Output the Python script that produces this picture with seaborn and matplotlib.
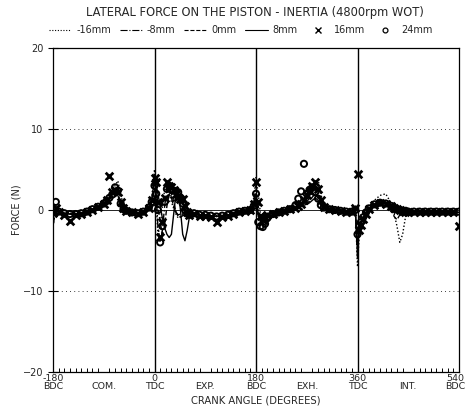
import matplotlib
matplotlib.use("Agg")
import matplotlib.pyplot as plt
import matplotlib.transforms as mtransforms
from matplotlib.lines import Line2D
from matplotlib.ticker import MultipleLocator
import pandas as pd
import seaborn as sns

# ---------------- data (crank angle in degrees, force in N) ----------------
ANGLE = [
    -180, -175, -170, -160, -150, -140, -130, -120, -110, -100,
    -90, -85, -80, -75, -70, -65, -60, -55, -50,
    -40, -30, -20, -10, -5,
    0, 3, 6, 10, 14, 18, 22, 26, 30,
    34, 38, 42, 46, 50, 54, 58, 62,
    70, 80, 90, 100, 110, 120, 130, 140, 150, 160, 170, 176,
    180, 184, 188, 192, 196, 200, 210, 220, 230, 240,
    250, 255, 260, 265, 270, 275, 280, 285, 290, 295, 300,
    310, 320, 330, 340, 350, 356,
    360, 363, 366, 370, 375, 380, 390, 400,
    410, 420, 425, 430, 435, 440, 445, 450,
    460, 470, 480, 490, 500, 510, 520, 530, 540,
]

F_M16 = [
    -2.0, 0.3, -0.1, -0.3, -0.4, -0.4, -0.3, -0.1, 0.2, 0.5,
    0.9, 1.3, 1.8, 2.4, 3.0, 3.6, 2.0, 0.4, 0.0,
    -0.2, -0.3, -0.1, 0.5, 1.5,
    5.0, 1.0, -3.0, -2.0, 0.5, 2.5, 3.0, 2.0, 1.0,
    0.2, -0.5, -1.0, -0.8, -0.5, -0.4, -0.4, -0.4,
    -0.3, -0.5, -0.6, -0.6, -0.7, -0.6, -0.5, -0.3, -0.1, 0.0, 0.2, 1.5,
    4.0, 2.0, -0.5, -1.0, -0.6, -0.4, -0.3, -0.2, 0.0, 0.2,
    0.4, 0.5, 0.6, 0.8, 1.2, 1.8, 2.5, 3.2, 3.8, 2.0, 0.5,
    0.2, 0.1, 0.0, -0.1, -0.1, 0.5,
    -7.0, -3.0, -1.8, -1.0, -0.3, 0.4, 1.2, 1.8,
    2.0, 0.8, -0.5, -2.0, -4.0, -3.0, -0.9, -0.4,
    -0.3, -0.2, -0.2, -0.2, -0.2, -0.2, -0.2, -0.2, -0.3,
]

F_M8 = [
    -2.0, 0.2, -0.2, -0.4, -0.5, -0.5, -0.4, -0.2, 0.1, 0.4,
    0.8, 1.1, 1.5, 2.0, 2.4, 2.8, 1.2, 0.2, -0.1,
    -0.3, -0.4, -0.2, 0.4, 1.2,
    4.5, 2.0, -2.0, -4.0, -2.5, 0.5, 2.5, 2.8, 1.5,
    0.5, -0.3, -0.6, -0.5, -0.4, -0.4, -0.4, -0.4,
    -0.4, -0.6, -0.6, -0.7, -0.8, -0.7, -0.6, -0.4, -0.2, -0.1, 0.1, 1.0,
    3.0, 0.5, -1.5, -1.3, -0.8, -0.5, -0.4, -0.3, -0.1, 0.1,
    0.3, 0.4, 0.5, 0.7, 1.0, 1.5, 2.2, 2.8, 2.5, 1.2, 0.4,
    0.1, 0.0, -0.1, -0.2, -0.2, 0.3,
    -6.0, -2.5, -1.7, -1.0, -0.4, 0.2, 0.8, 1.2,
    1.0, 0.5, 0.2, 0.0, -0.1, -0.2, -0.2, -0.2,
    -0.2, -0.2, -0.2, -0.2, -0.2, -0.2, -0.2, -0.2, -0.3,
]

F_0 = [
    -0.5, 0.2, -0.2, -0.4, -0.5, -0.5, -0.4, -0.2, 0.1, 0.4,
    0.8, 1.1, 1.6, 2.0, 2.2, 2.0, 1.0, 0.2, -0.1,
    -0.3, -0.4, -0.2, 0.3, 1.0,
    3.5, 3.0, 0.5, -1.5, -3.0, -2.0, 0.5, 2.0, 2.2,
    1.0, -0.2, -0.8, -0.9, -0.7, -0.6, -0.5, -0.5,
    -0.4, -0.6, -0.6, -0.7, -0.8, -0.7, -0.6, -0.4, -0.2, -0.1, 0.0, 0.6,
    2.0, -0.5, -1.5, -1.2, -0.8, -0.5, -0.4, -0.3, -0.1, 0.1,
    0.3, 0.4, 0.5, 0.6, 0.8, 1.1, 1.6, 2.0, 1.5, 0.7, 0.3,
    0.1, 0.0, -0.1, -0.2, -0.2, 0.2,
    -5.0, -2.3, -1.7, -1.0, -0.4, 0.2, 0.7, 1.0,
    0.9, 0.0, -0.8, -1.2, -0.6, -0.3, -0.2, -0.2,
    -0.2, -0.2, -0.2, -0.2, -0.2, -0.2, -0.2, -0.2, -0.3,
]

F_8 = [
    -0.4, 0.2, -0.2, -0.4, -0.5, -0.5, -0.4, -0.2, 0.1, 0.4,
    0.8, 1.1, 1.5, 1.9, 2.1, 1.8, 0.8, 0.1, -0.1,
    -0.3, -0.4, -0.2, 0.3, 0.9,
    2.5, 3.0, 2.0, 0.5, -1.0, -2.2, -3.0, -3.4, -3.0,
    -0.5, 2.0, 2.6, 0.0, -3.0, -3.8, -2.5, -0.8,
    -0.4, -0.6, -0.6, -0.7, -0.8, -0.7, -0.6, -0.4, -0.2, -0.1, 0.0, 0.5,
    1.5, -0.8, -1.3, -1.1, -0.8, -0.5, -0.4, -0.3, -0.1, 0.1,
    0.3, 0.4, 0.5, 0.6, 0.7, 0.9, 1.2, 1.5, 1.2, 0.6, 0.3,
    0.1, 0.0, -0.1, -0.2, -0.2, 0.1,
    -4.5, -2.3, -1.6, -1.0, -0.4, 0.1, 0.6, 0.9,
    0.8, 0.4, 0.2, 0.0, -0.1, -0.1, -0.2, -0.2,
    -0.2, -0.2, -0.2, -0.2, -0.2, -0.2, -0.2, -0.2, -0.3,
]

F_16 = [
    -0.4, 0.3, -0.3, -0.6, -1.4, -0.6, -0.5, -0.3, 0.0, 0.4,
    0.8, 1.2, 4.2, 2.2, 2.5, 2.2, 1.0, 0.2, -0.1,
    -0.3, -0.5, -0.3, 0.3, 1.2,
    4.0, 3.5, 1.0, -3.3, -1.5, 1.5, 3.4, 3.0, 2.8,
    2.5, 2.0, 1.6, 1.4, 1.4, 0.5, -0.3, -0.6,
    -0.5, -0.7, -0.8, -0.9, -1.5, -0.9, -0.7, -0.5, -0.3, -0.1, 0.0, 0.8,
    3.5, 1.0, -0.8, -1.2, -0.9, -0.6, -0.5, -0.3, -0.1, 0.1,
    0.3, 0.5, 0.7, 1.2, 1.8, 2.4, 3.0, 3.4, 2.6, 1.2, 0.4,
    0.1, 0.0, -0.1, -0.2, -0.2, 0.3,
    4.5, -2.5, -1.8, -1.1, -0.5, 0.1, 0.6, 0.9,
    0.8, 0.5, 0.3, 0.1, 0.0, -0.1, -0.2, -0.2,
    -0.2, -0.3, -0.2, -0.3, -0.2, -0.3, -0.2, -0.3, -2.0,
]

F_24 = [
    -0.3, 1.0, -0.2, -0.4, -0.5, -0.5, -0.4, -0.2, 0.1, 0.4,
    0.8, 1.1, 1.5, 1.9, 2.8, 2.4, 0.8, 0.1, -0.1,
    -0.3, -0.4, -0.2, 0.3, 1.0,
    3.0, 2.0, 0.0, -4.0, -2.0, 1.0, 2.6, 3.0, 2.5,
    2.4, 2.3, 2.2, 1.5, 0.8, 0.0, -0.4, -0.6,
    -0.4, -0.6, -0.6, -0.7, -0.8, -0.7, -0.6, -0.4, -0.2, -0.1, 0.0, 0.5,
    2.0, -1.5, -2.0, -2.1, -1.7, -1.0, -0.5, -0.3, -0.1, 0.1,
    0.6, 1.4, 2.3, 5.7, 2.0, 2.5, 2.8, 2.2, 1.4, 0.6, 0.3,
    0.1, 0.0, -0.1, -0.2, -0.2, 0.0,
    -3.0, -2.0, -1.5, -0.9, -0.3, 0.2, 0.7, 0.9,
    0.8, 0.5, 0.3, 0.1, 0.0, -0.1, -0.1, -0.2,
    -0.2, -0.2, -0.2, -0.2, -0.2, -0.2, -0.2, -0.2, -0.2,
]

SERIES_LABELS = ["-16mm", "-8mm", "0mm", "8mm", "16mm", "24mm"]
XTICKS = [-180, -90, 0, 90, 180, 270, 360, 450, 540]
XTICK_LABELS = ["-180\nBDC", "\nCOM.", "0\nTDC", "\nEXP.", "180\nBDC",
                "\nEXH.", "360\nTDC", "\nINT.", "540\nBDC"]
YTICKS = [-20, -10, 0, 10, 20]
TITLE = "LATERAL FORCE ON THE PISTON - INERTIA (4800rpm WOT)"
XLABEL = "CRANK ANGLE (DEGREES)"
YLABEL = "FORCE (N)"

# ---------------- plotting ----------------
sns.set_theme(style="white")
plt.rcParams["font.family"] = ["DejaVu Sans"]
plt.rcParams["font.size"] = 7

df = pd.DataFrame({"angle": ANGLE, "m16": F_M16, "m8": F_M8, "z0": F_0,
                   "p8": F_8, "p16": F_16, "p24": F_24})

fig = plt.figure(figsize=(4.67, 4.16), dpi=100)
ax = fig.add_axes([0.1135, 0.1058, 0.8694, 0.7788])

ax.axhline(0, color="black", lw=0.6, zorder=1)
for v in (0, 180, 360):
    ax.axvline(v, color="black", lw=1.0, zorder=1)
for h in (-10, 10):
    ax.axhline(h, color="black", lw=0.6, ls=(0, (1, 4)), zorder=1)

line_styles = {"m16": (0, (1, 1.5)), "m8": "-.", "z0": "--", "p8": "-"}
for col, ls in line_styles.items():
    sns.lineplot(data=df, x="angle", y=col, ax=ax, color="black", lw=1.0,
                 linestyle=ls, zorder=3)

sns.scatterplot(data=df, x="angle", y="p16", ax=ax, marker="x", s=30,
                color="black", linewidth=2.0, zorder=4)
sns.scatterplot(data=df, x="angle", y="p24", ax=ax, marker="o", s=20,
                fc="none", ec="black", linewidth=1.4, zorder=4)

ax.set_xlim(-180, 540)
ax.set_ylim(-20, 20)
ax.set_xticks(XTICKS)
ax.set_xticklabels(XTICK_LABELS, fontsize=6.8, linespacing=0.82)
ax.xaxis.set_minor_locator(MultipleLocator(10))
ax.tick_params(axis="x", which="major", length=0, pad=1.5)
ax.tick_params(axis="x", which="minor", direction="in", length=3,
               width=0.7, color="black", bottom=True, top=False)
# nudge the last label (540 / BDC) so it stays inside the figure
last = ax.get_xticklabels()[-1]
last.set_transform(last.get_transform() +
                   mtransforms.ScaledTranslation(-4 / 100, 0, fig.dpi_scale_trans))
ax.set_yticks(YTICKS)
ax.tick_params(axis="y", which="major", direction="inout", length=7,
               width=0.8, color="black", labelsize=7, left=True, right=False)
for sp in ax.spines.values():
    sp.set_color("black")
    sp.set_linewidth(0.9)

ax.set_xlabel(XLABEL, fontsize=7.2)
ax.xaxis.set_label_coords(0.5, -0.072)
ax.set_ylabel(YLABEL, fontsize=7)
ax.yaxis.set_label_coords(-0.078, 0.5)

fig.text(0.546, 0.969, TITLE, ha="center", va="center", fontsize=8.3)

handles = [
    Line2D([], [], color="black", lw=0.8, ls=(0, (1, 1.5))),
    Line2D([], [], color="black", lw=0.8, ls="-."),
    Line2D([], [], color="black", lw=0.8, ls="--"),
    Line2D([], [], color="black", lw=0.8, ls="-"),
    Line2D([], [], color="black", lw=0, marker="x", ms=4, mew=1.0),
    Line2D([], [], color="black", lw=0, marker="o", ms=3.5, mfc="none", mew=0.9),
]
fig.legend(handles, SERIES_LABELS, loc="center", bbox_to_anchor=(0.515, 0.928),
           ncol=6, frameon=False, fontsize=7, handlelength=2.3,
           columnspacing=0.9, handletextpad=0.5)

fig.savefig("out.png", dpi=100, facecolor="white")
